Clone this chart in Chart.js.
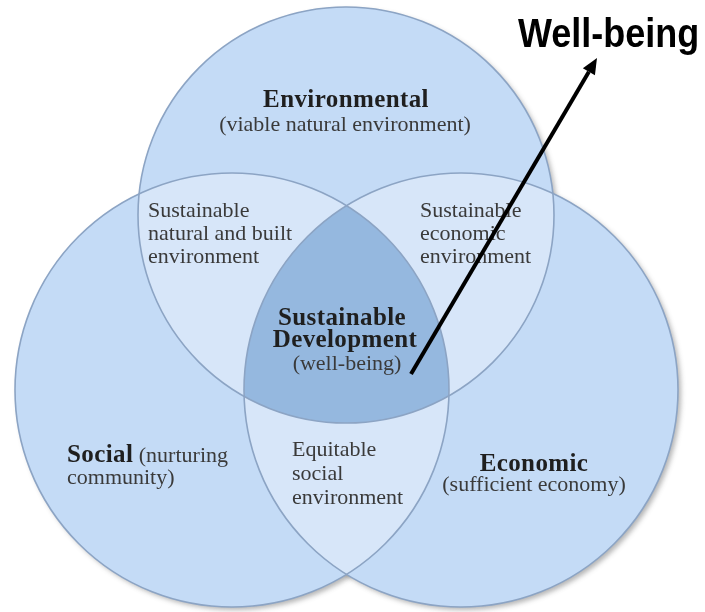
<!DOCTYPE html>
<html>
<head>
<meta charset="utf-8">
<script src="https://cdn.jsdelivr.net/npm/chart.js@4/dist/chart.umd.min.js"></script>
<style>
  html, body { margin: 0; padding: 0; background: #ffffff; }
  #wrap { width: 705px; height: 612px; position: relative; }
</style>
</head>
<body>
<div id="wrap"><canvas id="c"></canvas></div>
<script>
// ---- Data: the three sets of the Venn diagram ----
const setNames   = ['Environmental', 'Social', 'Economic'];
const setCenterX = [346, 232, 461];
const setCenterY = [215, 390, 390];
const setRadius  = [208, 217, 217];

// ---- Text labels ----
const envLabel     = ['Environmental', '(viable natural environment)'];
const envSocLabel  = ['Sustainable', 'natural and built', 'environment'];
const envEcoLabel  = ['Sustainable', 'economic', 'environment'];
const coreLabel    = ['Sustainable', 'Development', '(well-being)'];
const socLabel     = ['Social', ' (nurturing', 'community)'];
const socEcoLabel  = ['Equitable', 'social', 'environment'];
const ecoLabel     = ['Economic', '(sufficient economy)'];
const calloutLabel = 'Well-being';

const COLORS = {
  single: '#c4dbf6',
  pair: '#d7e6f9',
  core: '#95b8df',
  stroke: '#8ca4c4',
  text: '#3a3a3a',
  bold: '#1f1f1f'
};
const SERIF = '"Liberation Serif", "DejaVu Serif", serif';
const SANS = '"Liberation Sans", Arial, sans-serif';

function circlePath(ctx, c) {
  ctx.beginPath();
  ctx.arc(c.x, c.y, c.r, 0, Math.PI * 2);
  ctx.closePath();
}

const vennPlugin = {
  id: 'venn',
  beforeDatasetsDraw(chart) {
    const ctx = chart.ctx;
    const xs = chart.scales.x, ys = chart.scales.y;
    const circles = setNames.map((n, i) => ({
      x: xs.getPixelForValue(setCenterX[i]),
      y: ys.getPixelForValue(setCenterY[i]),
      r: xs.getPixelForValue(setCenterX[i] + setRadius[i]) - xs.getPixelForValue(setCenterX[i])
    }));
    ctx.save();
    // soft shadow under each circle
    circles.forEach(c => {
      ctx.save();
      ctx.shadowColor = 'rgba(90,90,90,0.45)';
      ctx.shadowBlur = 5;
      ctx.shadowOffsetX = 3;
      ctx.shadowOffsetY = 3;
      circlePath(ctx, c);
      ctx.fillStyle = COLORS.single;
      ctx.fill();
      ctx.restore();
    });
    circles.forEach(c => { circlePath(ctx, c); ctx.fillStyle = COLORS.single; ctx.fill(); });
    // pairwise overlaps
    const pairs = [[0, 1], [0, 2], [1, 2]];
    pairs.forEach(([a, b]) => {
      ctx.save();
      circlePath(ctx, circles[a]); ctx.clip();
      circlePath(ctx, circles[b]);
      ctx.fillStyle = COLORS.pair; ctx.fill();
      ctx.restore();
    });
    // triple overlap
    ctx.save();
    circlePath(ctx, circles[0]); ctx.clip();
    circlePath(ctx, circles[1]); ctx.clip();
    circlePath(ctx, circles[2]);
    ctx.fillStyle = COLORS.core; ctx.fill();
    ctx.restore();
    // outlines
    circles.forEach(c => {
      circlePath(ctx, c);
      ctx.strokeStyle = COLORS.stroke; ctx.lineWidth = 1.6; ctx.stroke();
    });
    ctx.restore();
  },
  afterDatasetsDraw(chart) {
    const ctx = chart.ctx;
    const xs = chart.scales.x, ys = chart.scales.y;
    const px = v => xs.getPixelForValue(v);
    const py = v => ys.getPixelForValue(v);
    ctx.save();
    ctx.textBaseline = 'alphabetic';
    function txt(s, x, y, font, color, align, spacing) {
      ctx.font = font;
      ctx.fillStyle = color;
      ctx.textAlign = align || 'left';
      ctx.letterSpacing = (spacing || 0) + 'px';
      ctx.fillText(s, px(x), py(y));
      ctx.letterSpacing = '0px';
    }
    const B = 'bold 25px ' + SERIF;
    const R = '22px ' + SERIF;
    // Environmental
    txt(envLabel[0], 346, 107, B, COLORS.bold, 'center', 0.4);
    txt(envLabel[1], 345, 131, R, COLORS.text, 'center');
    // Env ∩ Social
    envSocLabel.forEach((s, i) => txt(s, 148, 217 + i * 23, R, COLORS.text, 'left'));
    // Env ∩ Economic
    envEcoLabel.forEach((s, i) => txt(s, 420, 217 + i * 23, R, COLORS.text, 'left'));
    // Core
    txt(coreLabel[0], 342, 325, B, COLORS.bold, 'center', 0.4);
    txt(coreLabel[1], 345, 347, B, COLORS.bold, 'center', 0.4);
    txt(coreLabel[2], 347, 370, R, COLORS.text, 'center');
    // Social
    ctx.font = B;
    ctx.letterSpacing = '0.4px';
    const wSoc = ctx.measureText(socLabel[0]).width;
    ctx.letterSpacing = '0px';
    txt(socLabel[0], 67, 462, B, COLORS.bold, 'left', 0.4);
    txt(socLabel[1], 67 + (wSoc / (px(1) - px(0))), 462, R, COLORS.text, 'left');
    txt(socLabel[2], 67, 484, R, COLORS.text, 'left');
    // Social ∩ Economic
    socEcoLabel.forEach((s, i) => txt(s, 292, 456 + i * 24, R, COLORS.text, 'left'));
    // Economic
    txt(ecoLabel[0], 534, 471, B, COLORS.bold, 'center', 0.4);
    txt(ecoLabel[1], 534, 491, R, COLORS.text, 'center');

    // callout arrow
    const x0 = px(411), y0 = py(374), x1 = px(597), y1 = py(58);
    const ang = Math.atan2(y1 - y0, x1 - x0);
    const headLen = 16, headW = 7;
    const bx = x1 - headLen * Math.cos(ang), by = y1 - headLen * Math.sin(ang);
    ctx.strokeStyle = '#000'; ctx.lineWidth = 4; ctx.lineCap = 'butt';
    ctx.beginPath(); ctx.moveTo(x0, y0); ctx.lineTo(bx, by); ctx.stroke();
    ctx.beginPath();
    ctx.moveTo(x1, y1);
    ctx.lineTo(bx + headW * Math.sin(ang), by - headW * Math.cos(ang));
    ctx.lineTo(bx - headW * Math.sin(ang), by + headW * Math.cos(ang));
    ctx.closePath(); ctx.fillStyle = '#000'; ctx.fill();

    // Well-being
    ctx.save();
    ctx.translate(px(518), py(47));
    ctx.scale(1, 1.15);
    ctx.font = 'bold 36px ' + SANS;
    ctx.fillStyle = '#000';
    ctx.textAlign = 'left';
    ctx.fillText(calloutLabel, 0, 0);
    ctx.restore();
    ctx.restore();
  }
};

new Chart(document.getElementById('c'), {
  type: 'scatter',
  data: {
    datasets: [{
      label: 'Sets',
      data: setNames.map((n, i) => ({ x: setCenterX[i], y: setCenterY[i] })),
      pointRadius: 0,
      pointHoverRadius: 0
    }]
  },
  options: {
    responsive: true,
    maintainAspectRatio: false,
    animation: false,
    layout: { padding: 0 },
    plugins: { legend: { display: false }, tooltip: { enabled: false } },
    scales: {
      x: { type: 'linear', min: 0, max: 705, display: false },
      y: { type: 'linear', min: 0, max: 612, reverse: true, display: false }
    }
  },
  plugins: [vennPlugin]
});
</script>
</body>
</html>
